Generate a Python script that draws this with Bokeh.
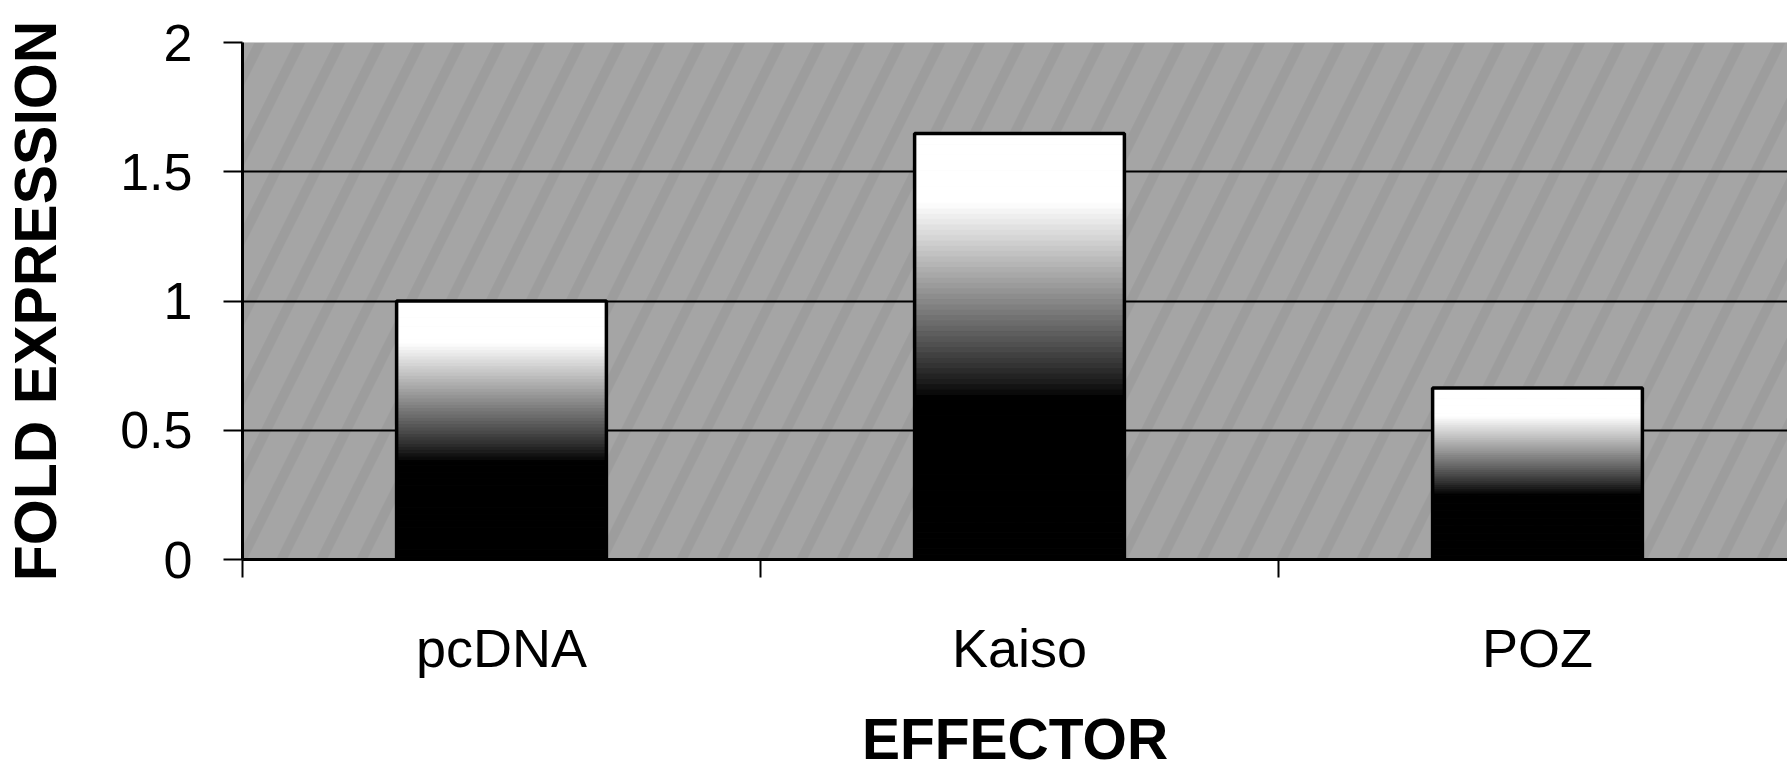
import numpy as np
from bokeh.plotting import figure
from bokeh.models import Range1d, FixedTicker, BoxAnnotation, ColumnDataSource
from bokeh.embed import file_html
from bokeh.resources import INLINE

# ---- data ----
categories = ["pcDNA", "Kaiso", "POZ"]
fold_expression = [1.0, 1.648, 0.663]
y_ticks = [0, 0.5, 1, 1.5, 2]
y_tick_labels = ["0", "0.5", "1", "1.5", "2"]

# ---- layout / style ----
W, H = 1787, 776
FRAME_LEFT, FRAME_TOP, FRAME_BOTTOM = 242, 42, 217
CAT_PX = 518.0
x_end = (W - FRAME_LEFT) / CAT_PX
BAR_W = 0.405
FONT = "Liberation Sans"

p = figure(width=W, height=H, output_backend="svg", toolbar_location=None,
           x_range=Range1d(0, x_end), y_range=Range1d(0, 2),
           min_border_left=FRAME_LEFT, min_border_right=0,
           min_border_top=FRAME_TOP, min_border_bottom=FRAME_BOTTOM)
p.background_fill_color = "#9d9d9d"
p.border_fill_color = "white"
p.outline_line_color = None

# mottled background approximation: wide soft light diagonal bands
bg = BoxAnnotation(fill_color=None, hatch_pattern="/", hatch_color="#b6b6b6",
                   hatch_alpha=0.3, hatch_scale=80, hatch_weight=26,
                   line_color=None, level="image")
p.add_layout(bg)

# gridlines
p.xgrid.visible = False
p.ygrid.ticker = FixedTicker(ticks=y_ticks)
p.ygrid.grid_line_color = "black"
p.ygrid.grid_line_width = 2

# ---- gradient-filled bars (stacked slices, black bottom -> white top) ----
centers = [i + 0.5 for i in range(len(categories))]
N = 80
xs, bots, tops, cols = [], [], [], []
for c, v in zip(centers, fold_expression):
    edges = np.linspace(0, v, N + 1)
    for k in range(N):
        f = (k + 0.5) / N
        t = float(np.clip((f - 0.38) / (0.84 - 0.38), 0, 1))
        g = int(round(255 * t ** 0.9))
        xs.append(c)
        bots.append(edges[k])
        tops.append(edges[k + 1])
        cols.append("#%02x%02x%02x" % (g, g, g))
src = ColumnDataSource(dict(x=xs, bottom=bots, top=tops, color=cols))
p.vbar(x="x", bottom="bottom", top="top", width=BAR_W, source=src,
       fill_color="color", line_color="color", line_width=1)
p.vbar(x=centers, top=fold_expression, width=BAR_W, fill_color=None,
       line_color="black", line_width=3.5)

# ---- axes ----
ya = p.yaxis[0]
ya.ticker = FixedTicker(ticks=y_ticks)
ya.major_label_overrides = {t: l for t, l in zip(y_ticks, y_tick_labels)}
ya.minor_tick_line_color = None
ya.major_tick_in = 0
ya.major_tick_out = 19
ya.major_tick_line_color = "black"
ya.major_tick_line_width = 2
ya.axis_line_color = "black"
ya.axis_line_width = 3
ya.major_label_standoff = 31
ya.major_label_text_font = FONT
ya.major_label_text_font_size = "52px"
ya.major_label_text_color = "black"
ya.axis_label = "FOLD EXPRESSION"
ya.axis_label_text_font = FONT
ya.axis_label_text_font_style = "bold"
ya.axis_label_text_font_size = "59px"
ya.axis_label_text_color = "black"
ya.axis_label_standoff = 48

xa = p.xaxis[0]
xa.ticker = FixedTicker(ticks=centers, minor_ticks=[0, 1, 2, 3])
xa.major_label_overrides = {c: n for c, n in zip(centers, categories)}
xa.major_tick_in = 0
xa.major_tick_out = 0
xa.major_tick_line_color = None
xa.minor_tick_in = 0
xa.minor_tick_out = 18
xa.minor_tick_line_color = "black"
xa.minor_tick_line_width = 2
xa.axis_line_color = "black"
xa.axis_line_width = 3
xa.major_label_standoff = 40
xa.major_label_text_font = FONT
xa.major_label_text_font_size = "54px"
xa.major_label_text_color = "black"
xa.axis_label = "EFFECTOR"
xa.axis_label_text_font = FONT
xa.axis_label_text_font_style = "bold"
xa.axis_label_text_font_size = "57px"
xa.axis_label_text_color = "black"
xa.axis_label_standoff = 26

open("out.html", "w").write(file_html(p, INLINE))
